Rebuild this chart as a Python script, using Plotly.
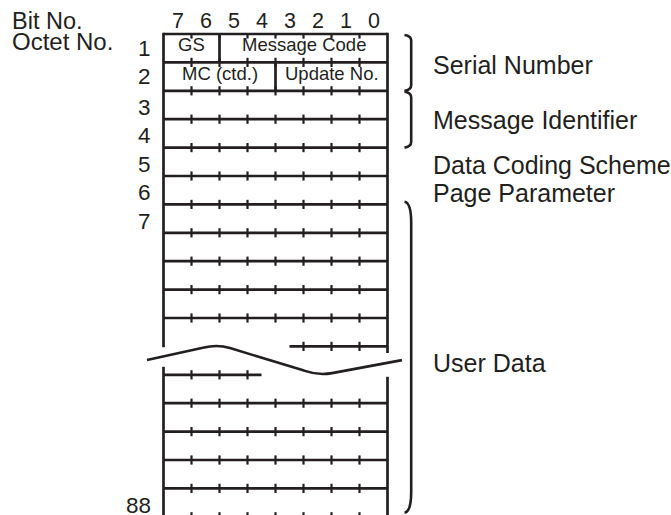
import plotly.graph_objects as go

# ---------------- data ----------------
bits = [7, 6, 5, 4, 3, 2, 1, 0]
octet_labels = ["1", "2", "3", "4", "5", "6", "7", "88"]
octet_rows = [1, 2, 3, 4, 5, 6, 7, 17]
field_names = ["GS", "Message Code", "MC (ctd.)", "Update No."]
field_rows = [1, 1, 2, 2]
field_first_bit = [7, 5, 7, 3]
field_last_bit = [6, 0, 4, 0]
group_names = ["Serial Number", "Message Identifier", "Data Coding Scheme",
               "Page Parameter", "User Data"]
group_first_row = [1, 3, 5, 6, 7]
group_last_row = [2, 4, 5, 6, 17]
group_braced = [True, True, False, False, True]
n_rows = 17          # rows drawn (last one = octet 88)
break_line = 11      # grid line where the break in the table is drawn

# ---------------- geometry / style ----------------
X0, CW = 163.5, 28.0
Y0, RH = 34.0, 28.4
INK = "#231f20"
FONT = "Liberation Sans, Arial, Helvetica, sans-serif"


def bx(k):            # x of column boundary k (0..8)
    return X0 + CW * k


def ly(k):            # y of grid line k
    return Y0 + RH * k


def bit_center(b):
    return bx(7 - b) + CW / 2


lines_x, lines_y = [], []
ticks_x, ticks_y = [], []


def seg(xs, ys, a, b):
    xs += [a[0], b[0], None]
    ys += [a[1], b[1], None]


T = 4.6
for k in range(0, n_rows + 1):
    y = ly(k)
    if k == break_line:
        seg(lines_x, lines_y, (bx(4.5), y), (bx(8), y))
        cols = [5, 6, 7]
    elif k == break_line + 1:
        seg(lines_x, lines_y, (bx(0), y), (bx(3.5), y))
        cols = [1, 2, 3]
    else:
        seg(lines_x, lines_y, (bx(0), y), (bx(8), y))
        cols = range(1, 8)
    for c in cols:
        if k == 0:
            seg(ticks_x, ticks_y, (bx(c), y), (bx(c), y + T))
        else:
            seg(ticks_x, ticks_y, (bx(c), y - T), (bx(c), y + T))

# outer verticals with the break
yb = ly(n_rows) + 2
seg(lines_x, lines_y, (bx(0), ly(0) - 1.2), (bx(0), ly(break_line) + 0.8))
seg(lines_x, lines_y, (bx(0), ly(break_line + 1) - 8), (bx(0), yb))
seg(lines_x, lines_y, (bx(8), ly(0) - 1.2), (bx(8), ly(break_line) + 6.5))
seg(lines_x, lines_y, (bx(8), ly(break_line + 1) + 2), (bx(8), yb))

# field separators
for r, fb in zip(field_rows, field_first_bit):
    if fb != 7:
        xk = 7 - fb
        seg(lines_x, lines_y, (bx(xk), ly(r - 1)), (bx(xk), ly(r)))

fig = go.Figure()
fig.add_trace(go.Scatter(x=lines_x, y=lines_y, mode="lines",
                         line=dict(color=INK, width=2.7), hoverinfo="skip"))
fig.add_trace(go.Scatter(x=ticks_x, y=ticks_y, mode="lines",
                         line=dict(color=INK, width=2.2), hoverinfo="skip"))

shapes = []
# wave break
ym = (ly(break_line) + ly(break_line + 1)) / 2
wave = (f"M147,{ym-0.5} L204,{ym-13} Q217,{ym-16.5} 230,{ym-12.5} "
        f"L304,{ym+10} Q318,{ym+15} 332,{ym+12.5} L402,{ym-0.5}")
shapes.append(dict(type="path", path=wave, xref="x", yref="y",
                   line=dict(color=INK, width=2.6)))

# braces
XB_TIP, XB_LINE = 404.5, 411.2
for f, l, br in zip(group_first_row, group_last_row, group_braced):
    if not br:
        continue
    top = ly(f - 1) + 1 if f < 7 else ly(f - 1) - 2.7
    bot = ly(l) if l < 17 else ly(l) - 4
    h = 5.5 if (bot - top) < 100 else 21
    p = (f"M{XB_TIP},{top} Q{XB_LINE},{top+1} {XB_LINE},{top+h} "
         f"L{XB_LINE},{bot-h} Q{XB_LINE},{bot-1} {XB_TIP},{bot}")
    shapes.append(dict(type="path", path=p, xref="x", yref="y",
                       line=dict(color=INK, width=2.6)))

ann = []


def text(x, y, s, size, xanchor="left"):
    ann.append(dict(x=x, y=y, text=s, showarrow=False, xanchor=xanchor,
                    yanchor="middle", xref="x", yref="y",
                    font=dict(family=FONT, size=size, color=INK)))


text(10, 20.5, "Bit No.", 23.5)
text(10, 41.5, "Octet No.", 24)
for b in bits:
    text(bit_center(b), 20.8, str(b), 21.5, "center")
for lab, r in zip(octet_labels, octet_rows):
    off = 0 if r <= 2 else 2.5
    text(153, ly(r - 1) + RH / 2 + off, lab, 22.5, "right")
for name, r, fb, lb in zip(field_names, field_rows, field_first_bit, field_last_bit):
    xc = (bx(7 - fb) + bx(8 - lb)) / 2
    text(xc, ly(r - 1) + RH / 2 - 3.5, name, 18.5, "center")
for name, f, l in zip(group_names, group_first_row, group_last_row):
    if l == 17:
        yc = ly(break_line) + 17
    else:
        yc = (ly(f - 1) + ly(l)) / 2 + 3
    if f == 3:
        yc -= 2
    text(431, yc, name, 25)

fig.update_layout(
    width=671, height=515,
    margin=dict(l=0, r=0, t=0, b=0),
    paper_bgcolor="white", plot_bgcolor="white",
    showlegend=False,
    xaxis=dict(range=[0, 671], visible=False, fixedrange=True),
    yaxis=dict(range=[515, 0], visible=False, fixedrange=True),
    shapes=shapes, annotations=ann,
)
fig.write_html("out.html", config={"displayModeBar": False},
               post_script="document.body.style.margin='0';"
                           "document.body.style.overflow='hidden';")
